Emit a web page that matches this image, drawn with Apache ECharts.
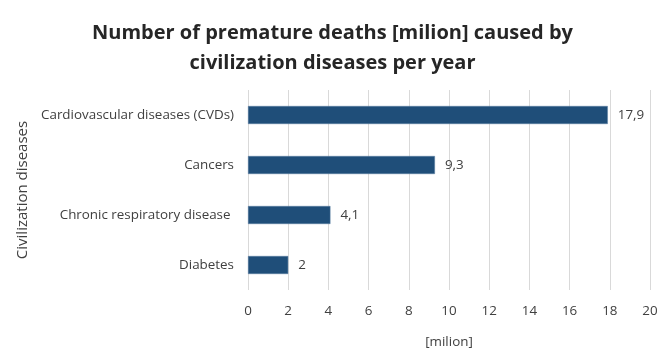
<!DOCTYPE html>
<html><head><meta charset="utf-8">
<script src="https://cdn.jsdelivr.net/npm/echarts@6/dist/echarts.min.js"></script>
<style>html,body{margin:0;padding:0;background:#fff}#c{width:665px;height:362px}</style>
</head><body><div id="c"></div>
<script>
const categories = ["Cardiovascular diseases (CVDs)", "Cancers", "Chronic respiratory disease ", "Diabetes"];
const values = [17.9, 9.3, 4.1, 2];
const xTicks = [0, 2, 4, 6, 8, 10, 12, 14, 16, 18, 20];

const chart = echarts.init(document.getElementById('c'));
const F = '"Open Sans", sans-serif';
chart.setOption({
  animation: false,
  title: {
    text: 'Number of premature deaths [milion] caused by\ncivilization diseases per year',
    left: 'center', top: 13,
    textStyle: { fontFamily: F, fontSize: 20, fontWeight: 'bold', color: '#262626', lineHeight: 30 }
  },
  grid: { left: 248, right: 15, top: 90, bottom: 72, containLabel: false },
  xAxis: {
    type: 'value', min: 0, max: 20, interval: 2,
    name: '[milion]', nameLocation: 'middle', nameGap: 46,
    nameTextStyle: { fontFamily: F, fontSize: 13.4, color: '#404040' },
    axisLine: { show: false }, axisTick: { show: false },
    axisLabel: { fontFamily: F, fontSize: 13.4, color: '#404040', margin: 15,
      formatter: v => xTicks.includes(v) ? String(v) : '' },
    splitLine: { show: true, lineStyle: { color: '#d9d9d9', width: 1 } }
  },
  yAxis: {
    type: 'category', data: categories, inverse: true,
    name: 'Civilization diseases', nameLocation: 'middle', nameGap: 201, nameRotate: 90,
    nameTextStyle: { fontFamily: F, fontSize: 15, color: '#404040' },
    axisLine: { show: false }, axisTick: { show: false },
    axisLabel: { fontFamily: F, fontSize: 13.4, color: '#404040', margin: 14 }
  },
  series: [{
    type: 'bar', data: values, barCategoryGap: '64%',
    itemStyle: { color: '#1f4e79', borderColor: '#5b7fa3', borderWidth: 0.5 },
    label: { show: true, position: 'right', distance: 10, fontFamily: F, fontSize: 13.4, color: '#404040',
      formatter: p => String(p.value).replace('.', ',') }
  }]
});
</script></body></html>
